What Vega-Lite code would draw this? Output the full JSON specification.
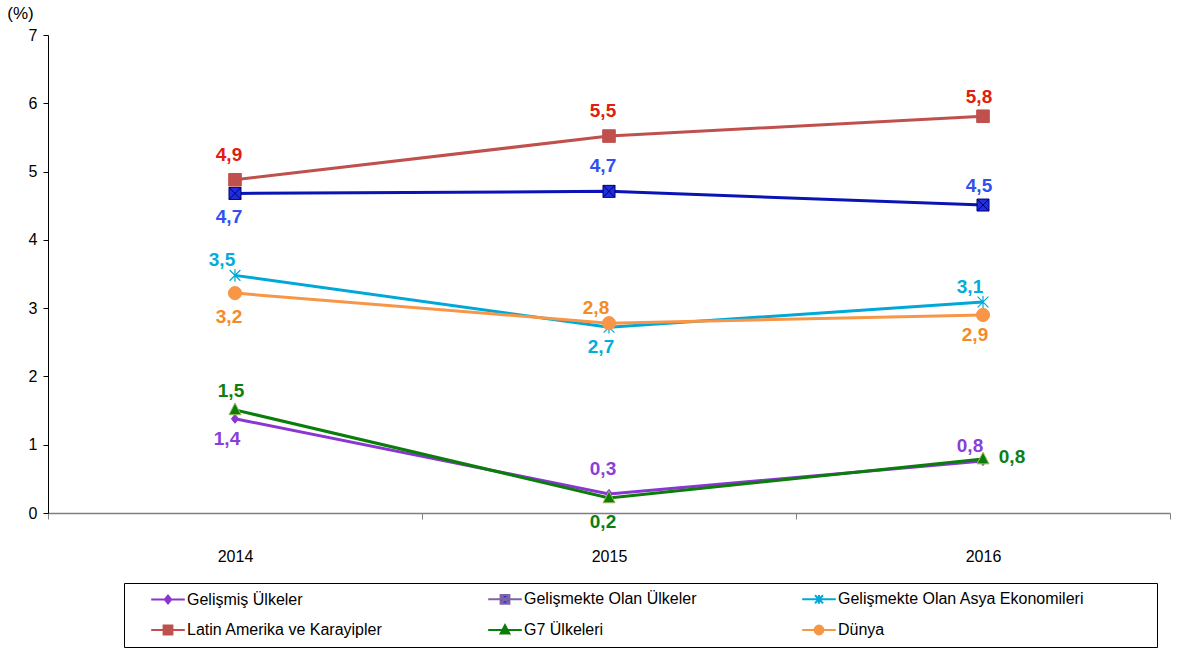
{
  "$schema": "https://vega.github.io/schema/vega-lite/v6.json",
  "autosize": "none",
  "width": 1122,
  "height": 478,
  "padding": {"left": 48, "top": 35, "right": 7, "bottom": 135},
  "config": {
    "view": {"stroke": null},
    "font": "Liberation Sans",
    "axis": {"labelFontSize": 16, "titleFontSize": 17, "labelColor": "#000000", "titleColor": "#000000", "labelFont": "Liberation Sans", "titleFont": "Liberation Sans"},
    "locale": {"number": {"decimal": ",", "thousands": ".", "grouping": [3], "currency": ["", " TL"]}}
  },
  "data": {
    "values": [
      {"series": "Gelişmiş Ülkeler", "year": "2014", "value": 1.38},
      {"series": "Gelişmiş Ülkeler", "year": "2015", "value": 0.28},
      {"series": "Gelişmiş Ülkeler", "year": "2016", "value": 0.76},
      {"series": "Gelişmekte Olan Ülkeler", "year": "2014", "value": 4.68},
      {"series": "Gelişmekte Olan Ülkeler", "year": "2015", "value": 4.71},
      {"series": "Gelişmekte Olan Ülkeler", "year": "2016", "value": 4.51},
      {"series": "Gelişmekte Olan Asya Ekonomileri", "year": "2014", "value": 3.48},
      {"series": "Gelişmekte Olan Asya Ekonomileri", "year": "2015", "value": 2.72},
      {"series": "Gelişmekte Olan Asya Ekonomileri", "year": "2016", "value": 3.09},
      {"series": "Latin Amerika ve Karayipler", "year": "2014", "value": 4.88},
      {"series": "Latin Amerika ve Karayipler", "year": "2015", "value": 5.52},
      {"series": "Latin Amerika ve Karayipler", "year": "2016", "value": 5.81},
      {"series": "G7 Ülkeleri", "year": "2014", "value": 1.51},
      {"series": "G7 Ülkeleri", "year": "2015", "value": 0.22},
      {"series": "G7 Ülkeleri", "year": "2016", "value": 0.79},
      {"series": "Dünya", "year": "2014", "value": 3.22},
      {"series": "Dünya", "year": "2015", "value": 2.78},
      {"series": "Dünya", "year": "2016", "value": 2.9}
    ]
  },
  "encoding": {
    "x": {
      "field": "year", "type": "nominal",
      "scale": {"type": "band", "paddingInner": 0, "paddingOuter": 0},
      "axis": {
        "title": null, "orient": "bottom", "labelAngle": 0, "tickBand": "extent",
        "tickSize": 6, "tickColor": "#808080", "domainColor": "#808080", "domainWidth": 1.5,
        "labelPadding": 29, "labelFontSize": 16, "labelColor": "#000000", "grid": false
      }
    },
    "y": {
      "field": "value", "type": "quantitative",
      "scale": {"domain": [0, 7], "nice": false, "zero": true},
      "axis": {
        "title": "(%)", "titleAngle": 0, "titleX": -28, "titleY": -22, "titleAlign": "center",
        "titleBaseline": "middle", "titleFontWeight": "normal", "titleFontSize": 17, "titleColor": "#000000",
        "values": [0, 1, 2, 3, 4, 5, 6, 7], "grid": false, "tickSize": 5, "tickColor": "#000000",
        "domainColor": "#000000", "labelFontSize": 16, "labelColor": "#000000", "labelPadding": 6
      }
    }
  },
  "resolve": {"scale": {"color": "independent"}},
  "layer": [
    {
      "mark": {"type": "line", "strokeWidth": 3},
      "encoding": {
        "color": {
          "field": "series", "type": "nominal", "legend": null,
          "scale": {
            "domain": ["Gelişmiş Ülkeler", "Gelişmekte Olan Ülkeler", "Gelişmekte Olan Asya Ekonomileri", "Latin Amerika ve Karayipler", "G7 Ülkeleri", "Dünya"],
            "range": ["#8A36D0", "#0A14B4", "#00A8D8", "#C0504D", "#0A7D0A", "#F79646"]
          }
        }
      }
    },
    {
      "transform": [{"filter": "datum.series === 'Gelişmiş Ülkeler'"}],
      "mark": {"type": "point", "filled": true, "opacity": 1, "size": 36, "shape": "M0,-1.5L1.2,0L0,1.5L-1.2,0Z", "fill": "#8A36D0", "stroke": "#8A36D0", "strokeWidth": 1}
    },
    {
      "transform": [{"filter": "datum.series === 'Gelişmekte Olan Ülkeler'"}],
      "mark": {"type": "point", "filled": true, "opacity": 1, "size": 36, "shape": "M-2,-2H2V2H-2ZM-2,-2L2,2M-2,2L2,-2", "fill": "#1F2FE0", "stroke": "#000070", "strokeWidth": 1}
    },
    {
      "transform": [{"filter": "datum.series === 'Gelişmekte Olan Asya Ekonomileri'"}],
      "mark": {"type": "point", "filled": false, "opacity": 1, "size": 36, "shape": "M-1.8,-1.8L1.8,1.8M-1.8,1.8L1.8,-1.8M0,-2.1L0,2.1", "stroke": "#00A8D8", "strokeWidth": 1.2}
    },
    {
      "transform": [{"filter": "datum.series === 'Latin Amerika ve Karayipler'"}],
      "mark": {"type": "point", "filled": true, "opacity": 1, "size": 36, "shape": "M-2.1,-2.1H2.1V2.1H-2.1Z", "fill": "#C0504D", "stroke": "#C0504D", "strokeWidth": 1}
    },
    {
      "transform": [{"filter": "datum.series === 'G7 Ülkeleri'"}],
      "mark": {"type": "point", "filled": true, "opacity": 1, "size": 36, "shape": "M0,-2.3L2,1.6H-2Z", "fill": "#0A7D0A", "stroke": "#9BBB59", "strokeWidth": 1}
    },
    {
      "transform": [{"filter": "datum.series === 'Dünya'"}],
      "mark": {"type": "point", "filled": true, "opacity": 1, "size": 36, "shape": "M2.2,0A2.2,2.2 0 1,1 -2.2,0A2.2,2.2 0 1,1 2.2,0Z", "fill": "#F79646", "stroke": "#F79646", "strokeWidth": 1}
    },
    {
      "transform": [{"filter": "datum.value > 100"}],
      "mark": {"type": "point", "filled": true, "opacity": 1},
      "encoding": {
        "shape": {
          "field": "series", "type": "nominal",
          "scale": {
            "domain": ["Gelişmiş Ülkeler", "Gelişmekte Olan Ülkeler", "Gelişmekte Olan Asya Ekonomileri", "Latin Amerika ve Karayipler", "G7 Ülkeleri", "Dünya"],
            "range": [
              "M-4.2,0H4.2M0,-1L0.8,0L0,1L-0.8,0Z",
              "M-4.2,0H4.2M-1.1,-1.1H1.1V1.1H-1.1ZM-1.1,-1.1L1.1,1.1M-1.1,1.1L1.1,-1.1",
              "M-4.2,0H4.2M-1,-1L1,1M-1,1L1,-1M0,-1.1V1.1",
              "M-4.2,0H4.2M-1.1,-1.1H1.1V1.1H-1.1Z",
              "M-4.2,0H4.2M0,-1.2L1.1,0.9H-1.1Z",
              "M-4.2,0H4.2M1.1,0A1.1,1.1 0 1,1 -1.1,0A1.1,1.1 0 1,1 1.1,0Z"
            ]
          },
          "legend": {
            "title": "\u00a0", "titleOrient": "right", "titlePadding": 65, "titleFontSize": 16,
            "orient": "none", "legendX": 76, "legendY": 548, "direction": "horizontal",
            "columns": 3, "columnPadding": 86, "rowPadding": 13, "padding": 8,
            "strokeColor": "#000000", "labelFont": "Liberation Sans", "labelFontSize": 16,
            "labelColor": "#000000", "labelOffset": 11, "symbolOffset": 28, "labelLimit": 600,
            "symbolSize": 64, "symbolStrokeWidth": 2, "symbolOpacity": 1
          }
        },
        "fill": {
          "field": "series", "type": "nominal",
          "scale": {
            "domain": ["Gelişmiş Ülkeler", "Gelişmekte Olan Ülkeler", "Gelişmekte Olan Asya Ekonomileri", "Latin Amerika ve Karayipler", "G7 Ülkeleri", "Dünya"],
            "range": ["#8A36D0", "#1F2FE0", "#00A8D8", "#C0504D", "#0A7D0A", "#F79646"]
          }
        },
        "stroke": {
          "field": "series", "type": "nominal",
          "scale": {
            "domain": ["Gelişmiş Ülkeler", "Gelişmekte Olan Ülkeler", "Gelişmekte Olan Asya Ekonomileri", "Latin Amerika ve Karayipler", "G7 Ülkeleri", "Dünya"],
            "range": ["#8A36D0", "#8064A2", "#00A8D8", "#C0504D", "#0A7D0A", "#F79646"]
          }
        }
      }
    },
    {
      "encoding": {
        "text": {"field": "value", "type": "quantitative", "format": ".1f"},
        "color": {
          "field": "series", "type": "nominal", "legend": null,
          "scale": {
            "domain": ["Gelişmiş Ülkeler", "Gelişmekte Olan Ülkeler", "Gelişmekte Olan Asya Ekonomileri", "Latin Amerika ve Karayipler", "G7 Ülkeleri", "Dünya"],
            "range": ["#8A3FD8", "#3050F0", "#00AEDB", "#E0200F", "#0E7E12", "#F58A2A"]
          }
        }
      },
      "layer": [
        {
          "transform": [{"filter": "(datum.series === 'Latin Amerika ve Karayipler' && datum.year !== '2016') || (datum.series === 'Gelişmekte Olan Ülkeler' && datum.year === '2015') || (datum.series === 'Gelişmiş Ülkeler' && datum.year === '2015')"}],
          "mark": {"type": "text", "font": "Liberation Sans", "fontWeight": "bold", "fontSize": 19, "align": "center", "baseline": "middle", "dx": -6, "dy": -25}
        },
        {
          "transform": [{"filter": "(datum.series === 'Latin Amerika ve Karayipler' && datum.year === '2016') || (datum.series === 'Gelişmekte Olan Ülkeler' && datum.year === '2016') || (datum.series === 'G7 Ülkeleri' && datum.year === '2014')"}],
          "mark": {"type": "text", "font": "Liberation Sans", "fontWeight": "bold", "fontSize": 19, "align": "center", "baseline": "middle", "dx": -4, "dy": -19}
        },
        {
          "transform": [{"filter": "(datum.series === 'Gelişmekte Olan Ülkeler' && datum.year === '2014') || (datum.series === 'Dünya' && datum.year === '2014') || (datum.series === 'G7 Ülkeleri' && datum.year === '2015')"}],
          "mark": {"type": "text", "font": "Liberation Sans", "fontWeight": "bold", "fontSize": 19, "align": "center", "baseline": "middle", "dx": -6, "dy": 24}
        },
        {
          "transform": [{"filter": "(datum.series === 'Dünya' && datum.year === '2016') || (datum.series === 'Gelişmiş Ülkeler' && datum.year === '2014') || (datum.series === 'Gelişmekte Olan Asya Ekonomileri' && datum.year === '2015')"}],
          "mark": {"type": "text", "font": "Liberation Sans", "fontWeight": "bold", "fontSize": 19, "align": "center", "baseline": "middle", "dx": -8, "dy": 20}
        },
        {
          "transform": [{"filter": "(datum.series === 'Gelişmekte Olan Asya Ekonomileri' && datum.year !== '2015') || (datum.series === 'Dünya' && datum.year === '2015') || (datum.series === 'Gelişmiş Ülkeler' && datum.year === '2016')"}],
          "mark": {"type": "text", "font": "Liberation Sans", "fontWeight": "bold", "fontSize": 19, "align": "center", "baseline": "middle", "dx": -13, "dy": -15}
        },
        {
          "transform": [{"filter": "datum.series === 'G7 Ülkeleri' && datum.year === '2016'"}],
          "mark": {"type": "text", "font": "Liberation Sans", "fontWeight": "bold", "fontSize": 19, "align": "center", "baseline": "middle", "dx": 29, "dy": -2}
        }
      ]
    }
  ]
}
